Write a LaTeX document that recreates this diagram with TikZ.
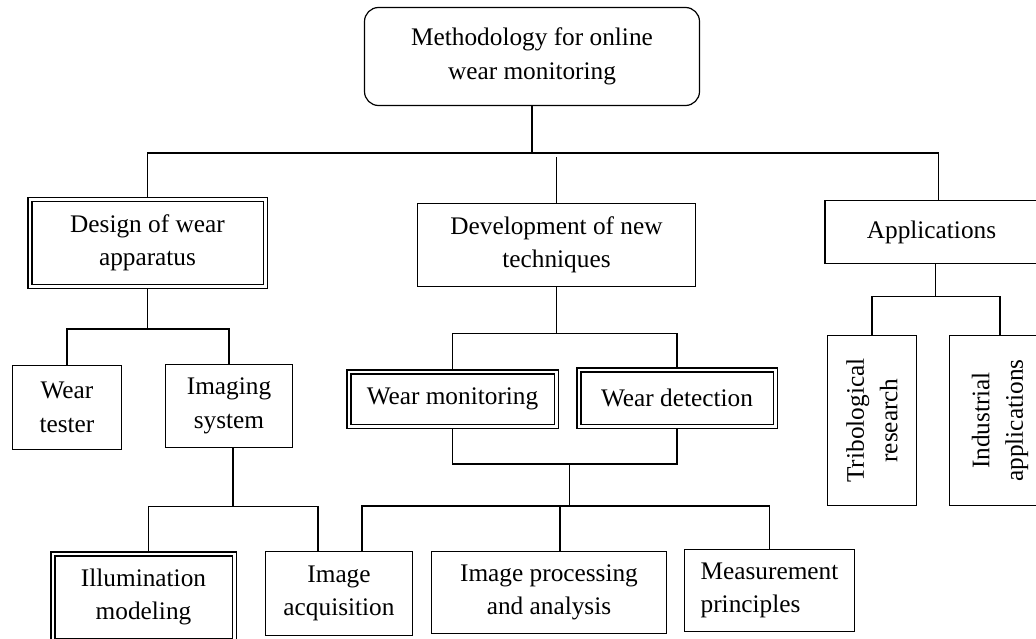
\documentclass[tikz,border=0pt]{standalone}
\usepackage{fontspec}
\setmainfont{Liberation Serif}
\usetikzlibrary{calc}
\tikzset{bx/.style={draw, line width=1.2pt, inner sep=0pt, align=center},
  dbx/.style={draw, line width=1.5pt, double, double distance=2.5pt, outer sep=2.75pt, inner sep=0pt, align=center},
  hd/.style={bx, rounded corners=14pt},
  ln/.style={line width=1.2pt}}

\begin{document}
\begin{tikzpicture}[x=1pt, y=-1pt, font=\fontsize{25.3}{33.5}\selectfont]
  \useasboundingbox (0,0) rectangle (1036,639);
  \clip (0,0) rectangle (1036,639);
  % root
  \node[hd, minimum width=335pt, minimum height=98pt] (top) at (532,56.5) {Methodology for online\\wear monitoring};
  % second level
  \node[dbx, minimum width=235.5pt, minimum height=86.5pt] (design) at (147.5,243) {Design of wear\\apparatus};
  \node[bx, minimum width=278pt, minimum height=83pt] (devel) at (556.5,245) {Development of new\\techniques};
  \node[bx, minimum width=213pt, minimum height=63pt] (apps) at (931.5,232) {Applications};
  % under design
  \node[bx, minimum width=109pt, minimum height=84pt] (wtester) at (67,407.5) {Wear\\tester};
  \node[bx, minimum width=127pt, minimum height=83pt] (imaging) at (229,406) {Imaging\\system};
  % under development
  \node[dbx, minimum width=207.5pt, minimum height=54.5pt] (wmon) at (452.5,399) {Wear monitoring};
  \node[dbx, minimum width=196.5pt, minimum height=56.5pt] (wdet) at (677,398) {Wear detection};
  % under applications, text turned
  \node[bx, rotate=90, minimum width=170pt, minimum height=89pt] (trib) at (872,420.5) {Tribological\\research};
  \node[bx, rotate=90, minimum width=170pt, minimum height=101pt] (indus) at (1000,420.5) {Industrial\\applications};
  % bottom row
  \node[dbx, minimum width=181.5pt, minimum height=86.5pt] (illum) at (143.5,597) {Illumination\\modeling};
  \node[bx, minimum width=147pt, minimum height=84pt] (imacq) at (339,593.5) {Image\\acquisition};
  \node[bx, minimum width=235pt, minimum height=82pt] (improc) at (549,592.5) {Image processing\\and analysis};
  \node[bx, minimum width=170pt, minimum height=82pt, align=left] (measure) at (769.5,590.5) {Measurement\\principles};

  % root to second level
  \draw[ln] (top.south) -- ++(0,47) coordinate (b1);
  \draw[ln] (design.north) |- ([xshift=7]apps.north |- b1) -- ([xshift=7]apps.north);
  \draw[ln, shorten <=4pt] (devel.north |- b1) -- (devel.north);
  % design branch
  \draw[ln] (design.south) -- ++(0,40) coordinate (b2);
  \draw[ln] (wtester.north) |- (imaging.north |- b2) -- (imaging.north);
  \draw[ln] ([xshift=4]imaging.south) -- ++(0,58) coordinate (b3);
  \draw[ln] ([xshift=5]illum.north) |- ([xshift=-21]imacq.north |- b3) -- ([xshift=-21]imacq.north);
  % development branch
  \draw[ln] (devel.south) -- ++(0,46) coordinate (b4);
  \draw[ln] (wmon.north) |- (wdet.north |- b4) -- (wdet.north);
  \draw[ln] (wmon.south) -- ++(0,35) coordinate (b5) -| (wdet.south);
  \coordinate (b5m) at ($(b5)!0.52!(wdet.south |- b5)$);
  \draw[ln] (b5m) -- ++(0,42) coordinate (b6);
  \draw[ln] ([xshift=23]imacq.north) |- (measure.north |- b6) -- (measure.north);
  \draw[ln] ([xshift=11]improc.north) -- ([xshift=11]improc.north |- b6);
  % applications branch
  \draw[ln] ([xshift=4]apps.south) -- ++(0,32) coordinate (b7);
  \draw[ln] (trib.east) |- (indus.east |- b7) -- (indus.east);
\end{tikzpicture}
\end{document}
